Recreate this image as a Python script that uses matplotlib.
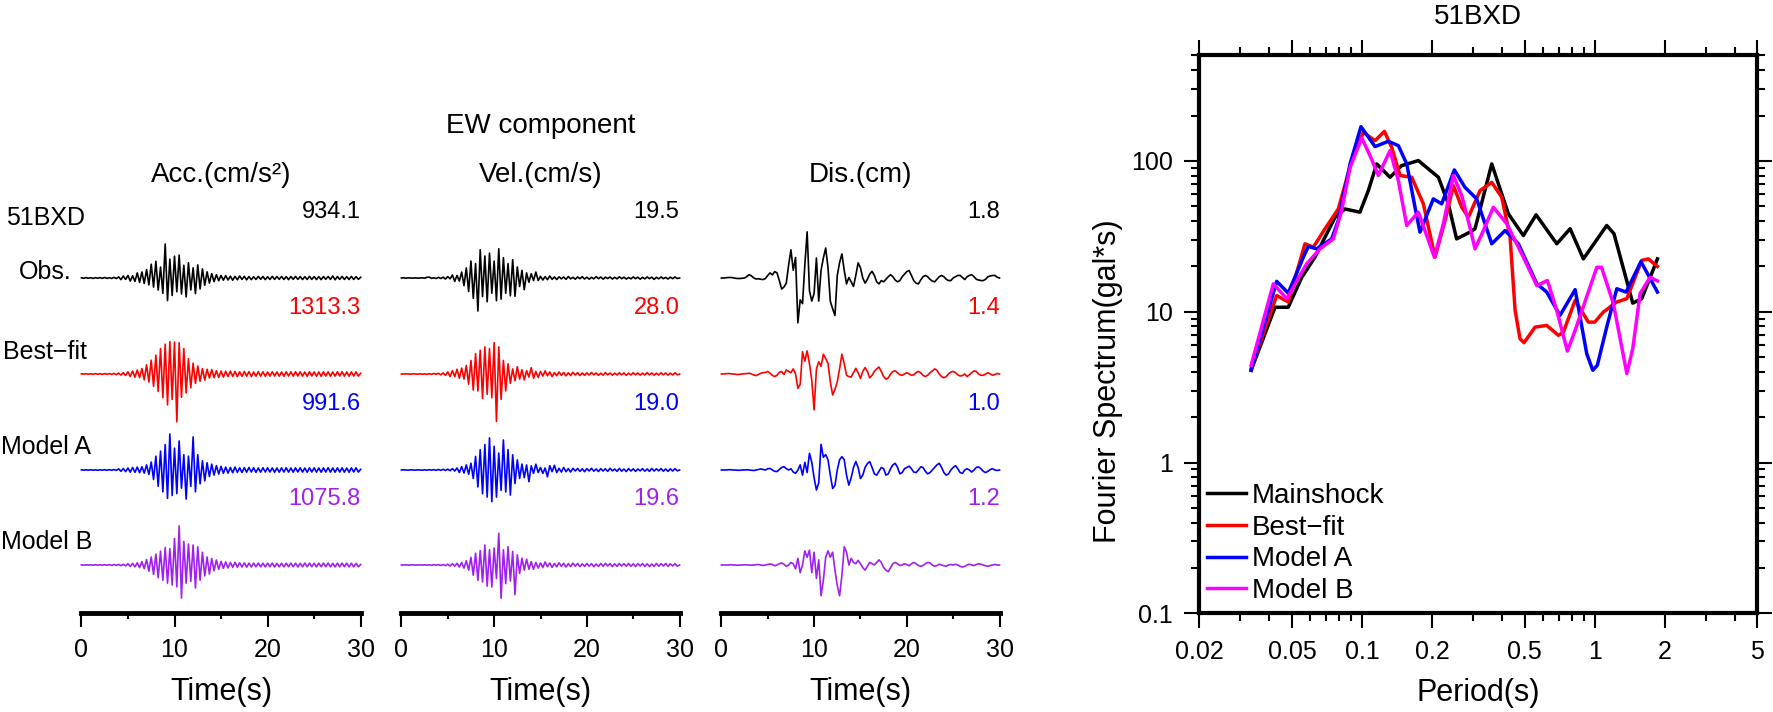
import numpy as np
import matplotlib
matplotlib.use("Agg")
import matplotlib.pyplot as plt
from matplotlib.ticker import FixedLocator, FixedFormatter, NullFormatter, LogLocator

plt.rcParams["font.family"] = ["Liberation Sans", "DejaVu Sans"]

W, H = 1773, 712
DT = 0.25

# ---- waveforms, 51BXD EW, every 0.25 s ----
acc_obs = [5, -8, 10, -6, 8, -12, 9, -7, 12, -10, 15, -12, 10, -14, 18, -15, 30, -45, 55, -40,
           70, -85, 60, -95, 140, -120, 165, -150, 230, -190, 380, -250, 460, -330, 300, -420, 934, -620, 520, -480,
           600, -380, 630, -440, 350, -520, 420, -330, 280, -430, 360, -300, 250, -200, 170, -140, 120, -100, 90, -75,
           70, -60, 65, -55, 50, -60, 45, -50, 55, -40, 45, -50, 40, -45, 35, -40, 45, -35, 40, -45,
           35, -40, 45, -38, 40, -35, 42, -40, 38, -45, 40, -36, 44, -38, 40, -42, 36, -40, 45, -38,
           40, -42, 38, -45, 40, -36, 42, -38, 55, -50, 40, -38, 42, -40, 38, -42, 45, -40, 38, -36, 20]
acc_best = [5, -5, 8, -6, 6, -8, 10, -8, 8, -10, 12, -10, 14, -12, 15, -18, 25, -30, 35, -40,
            60, -70, 80, -90, 110, -100, 150, -160, 250, -220, 380, -340, 520, -480, 700, -650, 820, -850, 890, -700,
            880, -1313, 860, -640, 700, -520, 420, -380, 300, -260, 220, -200, 150, -170, 130, -110, 120, -100, 90, -95,
            80, -85, 75, -70, 80, -65, 70, -75, 60, -65, 70, -60, 65, -70, 55, -60, 65, -58, 60, -62,
            55, -60, 62, -55, 58, -60, 55, -62, 60, -55, 58, -60, 62, -55, 60, -58, 55, -62, 60, -55,
            58, -60, 55, -62, 60, -55, 58, -60, 55, -58, 60, -55, 62, -58, 55, -60, 58, -55, 60, -58, 20]
acc_a = [5, -5, 6, -5, 8, -6, 5, -8, 6, -5, 8, -7, 10, -8, 12, -10, 30, -35, 40, -45,
         55, -60, 70, -65, 80, -75, 90, -85, 140, -120, 220, -260, 380, -450, 520, -600, 700, -780, 991, -700,
         600, -650, 800, -500, 420, -800, 380, -450, 910, -600, 420, -380, 250, -300, 200, -180, 160, -140, 120, -110,
         100, -90, 80, -85, 70, -75, 80, -65, 60, -70, 65, -60, 70, -55, 60, -65, 55, -60, 62, -55,
         60, -55, 58, -62, 55, -60, 58, -55, 62, -58, 55, -60, 58, -55, 60, -58, 55, -62, 58, -55,
         60, -58, 55, -60, 58, -55, 62, -58, 55, -60, 58, -55, 60, -58, 55, -62, 58, -55, 60, -58, 20]
acc_b = [3, -4, 5, -3, 4, -5, 6, -4, 5, -6, 8, -5, 8, -10, 12, -10, 15, -18, 20, -25,
         35, -40, 45, -50, 60, -70, 90, -100, 150, -170, 220, -260, 300, -350, 380, -420, 480, -500, 450, -550,
         730, -600, 1075, -910, 650, -500, 580, -450, 550, -630, 500, -420, 350, -300, 220, -250, 180, -160, 140, -120,
         100, -90, 85, -80, 70, -65, 75, -60, 60, -55, 58, -60, 50, -55, 52, -48, 55, -50, 48, -52,
         50, -48, 52, -55, 45, -50, 48, -52, 50, -45, 52, -48, 50, -55, 46, -50, 52, -48, 50, -46,
         48, -52, 50, -46, 52, -48, 55, -50, 46, -52, 50, -48, 52, -46, 50, -52, 48, -50, 46, -48, 15]

vel_obs = [0.0, 0.1, -0.1, 0.1, 0.0, -0.1, 0.1, -0.1, 0.0, 0.1, -0.1, 0.4, 0.5, -0.2, 0.1, -0.3, 0.4, -0.3, 0.5, -0.6,
           0.8, -0.5, 1.8, -2.0, 1.5, -1.8, 3.5, -4.5, 6.0, -8.0, 10.0, -12.0, 8.5, -19.5, 16.7, -11.0, 13.0, -14.0, 14.7, -9.0,
           10.0, -13.4, 17.3, -12.5, 12.0, -9.0, 8.5, -10.5, 10.8, -10.8, 6.5, -5.0, 4.5, -6.9, 3.0, -2.5, 2.5, -1.5, 3.5, -1.5,
           1.0, -1.2, 0.8, -1.0, 1.2, -0.8, 0.6, -0.9, 0.7, -0.5, 0.6, -0.8, 0.9, -0.5, 0.4, -0.7, 0.6, -0.4, 0.8, -0.6,
           0.5, -0.7, 0.4, -0.5, 0.8, -0.4, 0.6, -0.7, 0.5, -0.3, 0.6, -0.6, 0.4, -0.5, 0.7, -0.4, 0.5, -0.6, 0.3, -0.5,
           0.6, -0.4, 0.5, -0.7, 0.4, -0.5, 0.6, -0.4, 0.5, -0.8, 0.4, -0.5, 0.6, -0.4, 0.3, -0.6, 0.5, -0.4, 0.6, -0.3, 0.0]
vel_best = [0.0, 0.0, 0.1, 0.0, -0.1, 0.1, 0.0, -0.1, 0.1, -0.1, 0.1, -0.2, 0.2, -0.2, 0.3, -0.2, 0.4, -0.5, 0.6, -0.8,
            1.2, -1.5, 2.0, -1.6, 2.8, -2.5, 3.5, -3.0, 5.0, -6.0, 8.0, -9.5, 12.0, -10.0, 14.0, -14.4, 16.0, -12.0, 15.0, -14.0,
            18.5, -28.0, 16.0, -15.0, 8.0, -10.0, 6.0, -5.5, 3.0, -4.0, 4.3, -3.0, 2.5, -3.5, 2.0, -1.8, 3.7, -2.5, 1.5, -2.0,
            1.5, -1.2, 1.8, -1.0, 1.2, -1.5, 0.8, -1.0, 1.2, -0.8, 0.9, -1.1, 0.7, -0.9, 1.0, -0.6, 0.8, -0.9, 0.6, -0.8,
            0.7, -0.6, 0.9, -0.5, 0.6, -0.8, 0.5, -0.7, 0.8, -0.5, 0.6, -0.7, 0.5, -0.6, 0.7, -0.5, 0.6, -0.8, 0.5, -0.6,
            0.7, -0.5, 0.6, -0.7, 0.5, -0.6, 0.8, -0.5, 0.6, -0.7, 0.5, -0.6, 0.7, -0.5, 0.6, -0.7, 0.5, -0.6, 0.7, -0.5, 0.0]
vel_a = [0.0, 0.1, 0.0, -0.1, 0.1, 0.0, -0.1, 0.1, 0.0, -0.1, 0.1, -0.1, 0.2, -0.1, 0.2, -0.2, 0.3, -0.2, 0.4, -0.3,
         0.5, -0.4, 0.8, -0.6, 1.2, -1.5, 2.0, -1.8, 3.0, -2.5, 4.0, -5.0, 8.0, -10.0, 12.0, -14.0, 15.0, -16.0, 19.0, -18.7,
         14.0, -16.0, 10.0, -12.0, 17.7, -13.0, 12.0, -14.8, 9.0, -8.0, 6.0, -5.0, 3.5, -4.5, 3.0, -6.9, 2.5, -2.0, 3.4, -1.5,
         1.5, -2.0, 1.2, -4.0, 2.5, -1.0, 2.8, -1.5, 1.0, -1.2, 1.5, -1.0, 0.8, -1.2, 1.0, -0.6, 0.9, -0.8, 0.7, -1.0,
         0.8, -0.6, 1.0, -0.7, 0.6, -0.9, 0.8, -0.6, 0.7, -0.8, 1.0, -0.5, 0.6, -0.8, 0.9, -0.7, 0.6, -0.9, 0.8, -0.6,
         0.7, -0.8, 0.6, -0.5, 0.8, -0.7, 0.6, -0.8, 0.9, -0.6, 0.7, -0.5, 0.8, -0.7, 0.6, -0.8, 0.7, -0.6, 0.8, -0.5, 0.0]
vel_b = [0.0, 0.0, 0.1, -0.1, 0.0, 0.1, -0.1, 0.0, 0.1, -0.1, 0.1, -0.1, 0.1, -0.2, 0.2, -0.1, 0.2, -0.3, 0.3, -0.4,
         0.5, -0.6, 0.8, -0.7, 1.0, -1.2, 1.5, -1.8, 2.5, -3.0, 4.5, -6.0, 7.0, -9.0, 8.5, -10.0, 11.8, -12.5, 9.0, -13.0,
         10.0, -8.0, 18.7, -19.6, 9.0, -11.0, 10.8, -9.5, 8.0, -17.5, 6.0, -5.0, 4.0, -3.0, 3.5, -2.5, 2.0, -2.5, 1.5, -1.8,
         1.2, -1.5, 1.8, -1.0, 1.2, -1.4, 0.9, -1.1, 1.3, -0.8, 1.0, -1.2, 0.8, -0.9, 1.1, -0.7, 0.9, -1.0, 0.7, -0.8,
         0.9, -0.7, 0.8, -1.0, 0.6, -0.8, 0.9, -0.7, 1.0, -0.6, 0.8, -0.9, 0.7, -0.8, 0.9, -0.6, 0.8, -0.7, 0.9, -0.8,
         0.7, -0.9, 0.8, -0.6, 0.9, -0.8, 0.7, -0.9, 0.6, -0.8, 0.9, -0.7, 0.8, -0.6, 0.9, -0.8, 0.7, -0.6, 0.8, -0.7, 0.0]

dis_obs = [0.0, 0.0, 0.01, 0.02, 0.02, 0.01, -0.01, -0.02, -0.02, -0.01, 0.0, 0.06, 0.13, 0.08, 0.0, -0.04, -0.03, -0.05, -0.06, -0.02,
           0.1, 0.2, 0.12, 0.25, 0.2, -0.1, -0.43, -0.35, -0.2, 0.5, 1.1, 0.3, 0.8, -1.75, -0.85, -1.0, 0.5, 1.8, -0.5, -0.9,
           -0.6, 0.78, -0.9, 0.3, 0.78, 1.17, 0.4, -0.91, -1.2, -1.46, 0.1, 0.6, 0.94, 0.3, -0.23, 0.02, -0.15, -0.33, 0.1, 0.59,
           0.4, 0.0, -0.2, -0.05, 0.15, 0.26, 0.1, -0.15, -0.23, -0.1, -0.15, -0.05, 0.05, 0.13, 0.05, -0.08, -0.15, -0.1, 0.05, 0.15,
           0.25, 0.29, 0.1, -0.1, -0.2, -0.23, -0.08, 0.05, 0.1, 0.05, -0.05, -0.12, -0.15, -0.05, 0.05, 0.1, 0.05, -0.05, -0.1, -0.1,
           0.0, 0.05, 0.1, 0.1, 0.02, -0.06, 0.05, 0.1, 0.13, 0.05, -0.05, -0.08, -0.1, -0.1, -0.05, 0.05, 0.08, 0.1, 0.1, 0.03, 0.0]
dis_best = [0.0, 0.0, 0.01, 0.02, 0.01, 0.0, -0.01, -0.02, -0.01, 0.0, 0.01, 0.02, 0.03, 0.0, -0.04, -0.06, -0.02, 0.03, 0.05, 0.06,
            0.1, 0.03, -0.05, -0.1, -0.05, 0.06, 0.1, -0.02, 0.16, 0.1, 0.05, 0.2, 0.0, -0.56, -0.4, 0.87, 0.5, 0.9, 0.4, -0.25,
            -1.4, 0.2, 0.48, 0.3, 0.77, 0.6, 0.42, -0.3, -0.82, -0.6, -0.3, 0.2, 0.77, 0.4, -0.05, -0.1, -0.12, 0.05, 0.22, 0.05,
            -0.17, 0.1, 0.25, 0.1, -0.15, -0.05, 0.1, 0.2, 0.27, 0.1, -0.1, -0.2, -0.15, 0.0, 0.1, 0.12, 0.05, -0.03, -0.05, 0.0,
            0.05, 0.0, -0.05, -0.03, 0.05, 0.1, 0.05, -0.05, -0.1, -0.05, 0.05, 0.12, 0.2, 0.15, 0.0, -0.1, -0.15, -0.1, 0.0, 0.08,
            0.1, 0.05, -0.03, -0.08, -0.06, 0.0, -0.1, -0.03, 0.05, 0.12, 0.1, 0.0, -0.05, -0.05, 0.0, 0.05, 0.0, -0.05, -0.02, 0.02, 0.0]
dis_a = [0.0, 0.0, 0.0, 0.01, 0.01, 0.0, 0.0, -0.01, -0.01, 0.0, 0.0, 0.01, 0.0, -0.01, -0.02, 0.0, 0.02, 0.04, 0.02, 0.0,
         0.05, 0.06, 0.0, -0.05, -0.06, 0.02, 0.1, 0.13, 0.05, 0.0, 0.05, -0.08, -0.13, 0.0, 0.2, -0.2, 0.3, -0.1, 0.65, 0.3,
         -0.3, -0.78, -0.5, 1.0, 0.5, 0.6, 0.4, -0.2, -0.72, -0.6, 0.0, 0.4, 0.52, 0.4, -0.2, -0.59, -0.3, 0.1, 0.33, 0.1,
         -0.33, -0.2, 0.1, 0.25, 0.33, 0.1, -0.15, -0.2, -0.05, 0.1, 0.05, -0.2, -0.15, 0.05, 0.2, 0.26, 0.1, -0.15, -0.1, 0.05,
         0.1, 0.15, 0.05, -0.08, -0.1, 0.0, 0.12, 0.1, -0.05, -0.15, -0.1, 0.0, 0.1, 0.2, 0.26, 0.1, -0.1, -0.2, -0.15, 0.0,
         0.1, 0.17, 0.05, -0.1, -0.13, 0.0, 0.05, 0.0, -0.08, 0.0, 0.1, 0.12, 0.05, -0.05, -0.1, -0.05, 0.02, 0.05, 0.0, -0.02, 0.0]
dis_b = [0.0, 0.0, 0.0, 0.0, 0.01, 0.0, 0.0, -0.01, 0.0, 0.0, 0.01, 0.0, 0.0, -0.01, 0.0, 0.01, 0.02, 0.0, -0.02, 0.0,
         0.02, 0.04, 0.02, -0.03, 0.0, 0.05, 0.08, 0.03, -0.05, 0.0, 0.1, 0.05, -0.15, 0.26, -0.3, 0.0, 0.55, 0.3, 0.58, -0.3,
         0.5, -0.52, 0.2, -1.2, -0.6, 0.3, 0.55, 0.3, 0.5, -0.2, -0.8, -1.2, -0.4, 0.71, 0.5, 0.0, 0.26, 0.1, 0.05, 0.18,
         0.05, -0.1, -0.2, -0.05, 0.1, 0.05, 0.0, 0.1, 0.2, 0.1, -0.1, -0.2, -0.26, -0.1, 0.05, 0.1, 0.05, -0.02, 0.0, 0.05,
         0.02, -0.03, 0.05, 0.1, 0.05, -0.02, -0.05, -0.02, 0.05, 0.1, 0.08, 0.0, -0.05, -0.02, 0.03, 0.0, -0.03, -0.05, 0.0, 0.02,
         0.0, 0.03, 0.0, -0.05, -0.08, -0.05, 0.0, 0.03, 0.0, -0.02, 0.02, 0.05, 0.03, 0.0, -0.03, -0.05, -0.02, 0.0, 0.02, 0.0, 0.0]

peak_acc = [934.1, 1313.3, 991.6, 1075.8]
peak_vel = [19.5, 28.0, 19.0, 19.6]
peak_dis = [1.8, 1.4, 1.0, 1.2]

row_names = ["Obs.", "Best\u2212fit", "Model A", "Model B"]
row_colors = ["black", "#ff0000", "#0000ff", "#a020f0"]

# ---- Fourier spectra ----
t_main = [0.0334, 0.0423, 0.0482, 0.0551, 0.0628, 0.0766, 0.0845, 0.098, 0.1065, 0.1157, 0.132, 0.148, 0.1747,
          0.213, 0.235, 0.255, 0.291, 0.306, 0.3611, 0.4255, 0.4935, 0.56, 0.687, 0.784, 0.894, 1.126, 1.21,
          1.457, 1.592, 1.86]
fs_main = [4.09, 10.7, 10.7, 16.9, 23.0, 42.3, 48.0, 45.7, 63.6, 95.5, 77.9, 93.0, 100.5, 77.9, 51.9, 30.4,
           33.7, 35.5, 95.5, 44.6, 32.0, 43.9, 28.2, 35.5, 22.4, 37.3, 32.9, 11.4, 12.2, 22.4]
t_best = [0.0334, 0.043, 0.0482, 0.0569, 0.0618, 0.0694, 0.0791, 0.0904, 0.1013, 0.1138, 0.1248, 0.1342, 0.1457,
          0.1636, 0.1835, 0.206, 0.2275, 0.247, 0.2683, 0.2865, 0.3217, 0.3611, 0.3986, 0.4329, 0.4549, 0.4776,
          0.497, 0.554, 0.622, 0.698, 0.733, 0.824, 0.939, 1.0, 1.089, 1.244, 1.374, 1.592, 1.70, 1.86]
fs_best = [4.19, 12.8, 11.6, 28.2, 26.8, 35.5, 48.0, 100.5, 154.6, 136.2, 157.0, 123.0, 80.0, 77.9, 51.9, 23.0,
           40.3, 68.6, 49.3, 42.3, 63.6, 72.1, 57.4, 31.2, 10.2, 6.62, 6.23, 7.9, 8.11, 6.97, 7.3, 11.9, 8.53,
           8.53, 9.94, 11.6, 12.2, 21.9, 22.4, 19.95]
t_a = [0.0334, 0.043, 0.0482, 0.056, 0.0588, 0.0639, 0.0741, 0.0791, 0.0889, 0.099, 0.1138, 0.1298, 0.1433,
       0.1557, 0.169, 0.1775, 0.2026, 0.220, 0.2494, 0.277, 0.291, 0.311, 0.3611, 0.4119, 0.470, 0.564, 0.622,
       0.709, 0.824, 0.924, 0.981, 1.026, 1.126, 1.244, 1.364, 1.58, 1.86]
fs_a = [4.09, 15.9, 13.3, 23.0, 27.1, 26.1, 30.4, 40.3, 95.5, 168.7, 124.4, 134.9, 126.3, 95.5, 49.3, 33.7,
        56.0, 51.9, 87.1, 66.8, 62.0, 56.0, 28.2, 34.5, 28.2, 15.3, 13.5, 9.45, 14.0, 5.27, 4.09, 4.41, 7.9,
        14.2, 13.5, 21.5, 13.5]
t_b = [0.0334, 0.0416, 0.0475, 0.0579, 0.066, 0.0753, 0.0818, 0.0889, 0.0998, 0.1083, 0.1176, 0.132, 0.1433,
       0.1557, 0.1747, 0.2047, 0.2237, 0.247, 0.2683, 0.291, 0.306, 0.3323, 0.3668, 0.4188, 0.4935, 0.564,
       0.626, 0.687, 0.763, 0.824, 1.021, 1.07, 1.203, 1.374, 1.457, 1.567, 1.729, 1.86]
fs_b = [4.41, 15.3, 12.2, 20.8, 26.1, 30.4, 46.9, 90.7, 142.0, 108.4, 80.0, 117.0, 74.1, 37.3, 45.7, 23.0,
        38.3, 80.0, 58.9, 36.3, 26.1, 34.5, 49.3, 38.3, 23.0, 14.9, 16.1, 10.2, 5.48, 7.52, 19.7, 19.7, 11.3,
        3.89, 5.69, 13.2, 16.9, 16.0]

spec_names = ["Mainshock", "Best\u2212fit", "Model A", "Model B"]
spec_colors = ["black", "#ff0000", "#0000ff", "#ff00ff"]


fig = plt.figure(figsize=(W / 100, H / 100), dpi=100)


def px_axes(x0, y0, x1, y1):
    # axes from pixel box (top-left origin)
    return fig.add_axes([x0 / W, 1 - y1 / H, (x1 - x0) / W, (y1 - y0) / H])


def px_text(x, y, s, **kw):
    return fig.text(x / W, 1 - y / H, s, **kw)


time = np.arange(len(acc_obs)) * DT

columns = [
    ("Acc.(cm/s\u00b2)", [acc_obs, acc_best, acc_a, acc_b], peak_acc, 27.5, 81.4, 360.7),
    ("Vel.(cm/s)", [vel_obs, vel_best, vel_a, vel_b], peak_vel, 0.59, 401.4, 679.6),
    ("Dis.(cm)", [dis_obs, dis_best, dis_a, dis_b], peak_dis, 0.039, 721.4, 999.5),
]

AX_TOP, AX_BOT = 190.0, 612.8
baselines = [278.0, 374.0, 470.0, 565.0]  # pixel rows of the four traces

for title, traces, peaks, per_px, x0, x1 in columns:
    ax = px_axes(x0, AX_TOP, x1, AX_BOT)
    ax.set_xlim(0, 30)
    ax.set_ylim(0, AX_BOT - AX_TOP)
    for tr, pk, yb, c in zip(traces, peaks, baselines, row_colors):
        base = AX_BOT - yb
        ax.plot(time, base + np.array(tr) / per_px, color=c, lw=1.2, clip_on=False)
        ax.text(30, base + 66, f"{pk:.1f}", ha="right", va="center", fontsize=17, color=c)
    for s in ["left", "right", "top"]:
        ax.spines[s].set_visible(False)
    ax.spines["bottom"].set_linewidth(3.5)
    ax.set_yticks([])
    ax.set_xticks([0, 10, 20, 30])
    ax.set_xticks([5, 15, 25], minor=True)
    ax.tick_params(axis="x", which="major", length=10, width=1.5, labelsize=18, pad=8)
    ax.tick_params(axis="x", which="minor", length=4.5, width=1.5)
    ax.set_xlabel("Time(s)", fontsize=22)
    ax.xaxis.set_label_coords(0.5, (AX_BOT - 691.7) / (AX_BOT - AX_TOP))
    ax.xaxis.label.set_va("center")
    px_text((x0 + x1) / 2, 175, title, ha="center", va="center", fontsize=20)

px_text(540.5, 126, "EW component", ha="center", va="center", fontsize=20)
px_text(6, 218, "51BXD", ha="left", va="center", fontsize=18)
px_text(72, 272, "Obs.", ha="right", va="center", fontsize=18)
px_text(3, 352, row_names[1], ha="left", va="center", fontsize=18)
px_text(1, 447, row_names[2], ha="left", va="center", fontsize=18)
px_text(1, 542, row_names[3], ha="left", va="center", fontsize=18)

# ---- spectrum panel ----
ax = px_axes(1199.3, 55.5, 1757.4, 613.3)
for tt, ff, name, c in zip([t_main, t_best, t_a, t_b], [fs_main, fs_best, fs_a, fs_b], spec_names, spec_colors):
    ax.plot(tt, ff, color=c, lw=2.5, label=name)
ax.set_xscale("log")
ax.set_yscale("log")
ax.set_xlim(0.02, 5)
ax.set_ylim(0.1, 500)
xt = [0.02, 0.05, 0.1, 0.2, 0.5, 1, 2, 5]
ax.xaxis.set_major_locator(FixedLocator(xt))
ax.xaxis.set_major_formatter(FixedFormatter(["0.02", "0.05", "0.1", "0.2", "0.5", "1", "2", "5"]))
ax.xaxis.set_minor_locator(FixedLocator([0.03, 0.04, 0.06, 0.07, 0.08, 0.09, 0.3, 0.4, 0.6, 0.7, 0.8, 0.9, 3, 4]))
ax.xaxis.set_minor_formatter(NullFormatter())
ax.yaxis.set_major_locator(FixedLocator([0.1, 1, 10, 100]))
ax.yaxis.set_major_formatter(FixedFormatter(["0.1", "1", "10", "100"]))
ax.yaxis.set_minor_locator(LogLocator(base=10, subs=np.arange(2, 10), numticks=20))
ax.yaxis.set_minor_formatter(NullFormatter())
ax.tick_params(which="both", direction="out", top=True, right=True, width=1.5, labelsize=18)
ax.tick_params(which="major", length=11, pad=8)
ax.tick_params(which="minor", length=5.5)
for s in ax.spines.values():
    s.set_linewidth(3)
ax.set_xlabel("Period(s)", fontsize=22)
ax.xaxis.set_label_coords(0.5, (613.3 - 693) / (613.3 - 55.5))
ax.xaxis.label.set_va("center")
ax.set_ylabel("Fourier Spectrum(gal*s)", fontsize=22)
ax.yaxis.set_label_coords((1108 - 1199.3) / (1757.4 - 1199.3), (613.3 - 381.5) / (613.3 - 55.5))
ax.yaxis.label.set_va("center")
ax.legend(loc="lower left", bbox_to_anchor=(0.014, 0.017), frameon=False, fontsize=20,
          handlelength=1.4, handletextpad=0.22, labelspacing=0.2, borderpad=0, borderaxespad=0)
px_text(1478, 17.3, "51BXD", ha="center", va="center", fontsize=20)

fig.savefig("out.png", dpi=100)
